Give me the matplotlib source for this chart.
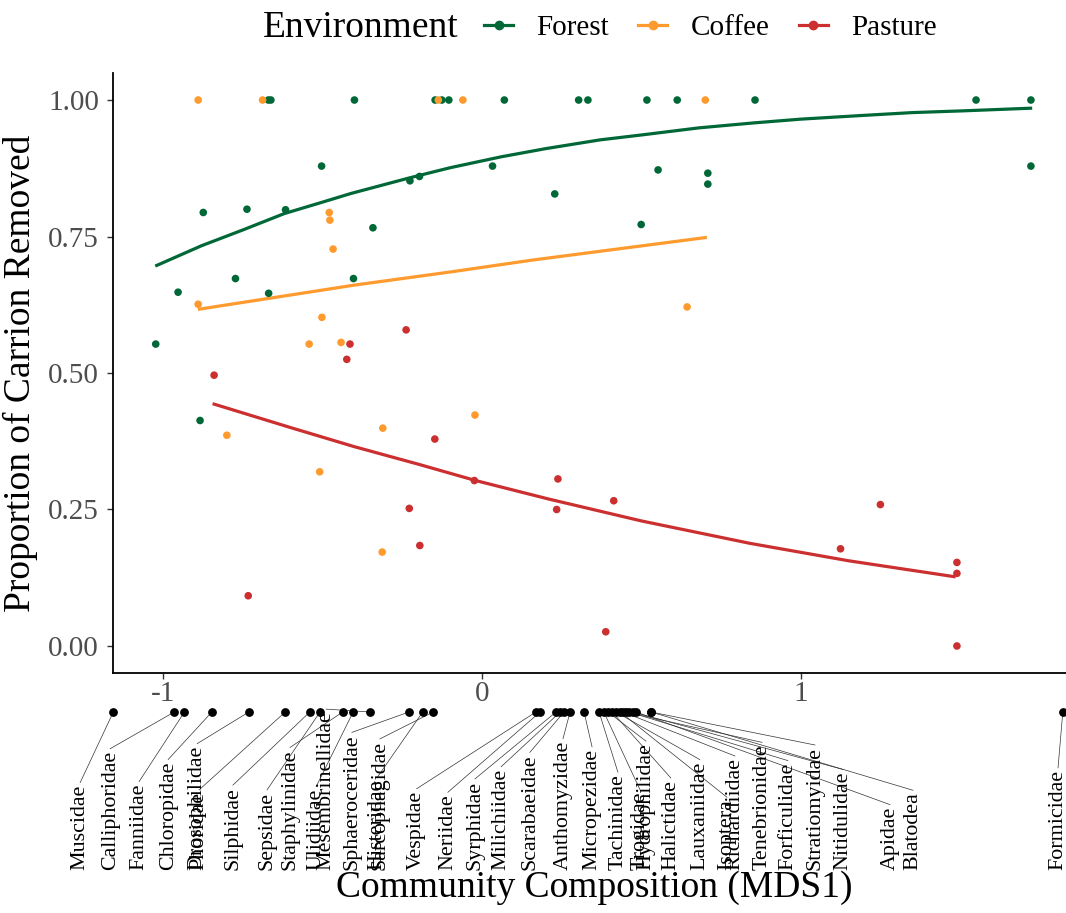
import numpy as np
import matplotlib
matplotlib.use("Agg")
import matplotlib.pyplot as plt
from matplotlib.lines import Line2D

# --- data ---
forest_x = [-1.023, -0.953, -0.884, -0.874, -0.773, -0.737, -0.670, -0.662, -0.669, -0.616,
            -0.503, -0.400, -0.403, -0.342, -0.226, -0.196, -0.147, -0.126, -0.104, 0.033,
            0.070, 0.228, 0.303, 0.332, 0.499, 0.517, 0.552, 0.612, 0.708, 0.708,
            0.856, 1.549, 1.721, 1.721]
forest_y = [0.553, 0.648, 0.413, 0.794, 0.673, 0.800, 1.0, 1.0, 0.646, 0.799,
            0.879, 1.0, 0.673, 0.766, 0.852, 0.860, 1.0, 1.0, 1.0, 0.879,
            1.0, 0.828, 1.0, 1.0, 0.772, 1.0, 0.872, 1.0, 0.866, 0.846,
            1.0, 1.0, 1.0, 0.879]

coffee_x = [-0.890, -0.688, -0.890, -0.479, -0.477, -0.467, -0.502, -0.542, -0.442,
            -0.137, -0.060, -0.800, -0.509, -0.311, -0.313, -0.022, 0.700, 0.643]
coffee_y = [1.0, 1.0, 0.626, 0.794, 0.780, 0.727, 0.602, 0.553, 0.556,
            1.0, 1.0, 0.386, 0.319, 0.399, 0.172, 0.423, 1.0, 0.621]

pasture_x = [-0.840, -0.733, -0.414, -0.424, -0.238, -0.148, -0.024, -0.228, -0.195,
             0.238, 0.234, 0.413, 0.388, 1.124, 1.249, 1.489, 1.489, 1.489]
pasture_y = [0.496, 0.092, 0.553, 0.525, 0.579, 0.379, 0.303, 0.252, 0.184,
             0.306, 0.250, 0.266, 0.026, 0.178, 0.259, 0.153, 0.133, 0.0]

# fitted curves
forest_fit_x = [-1.02, -0.88, -0.75, -0.62, -0.50, -0.41, -0.23, -0.10, 0.06, 0.20,
                0.37, 0.50, 0.68, 0.85, 1.00, 1.20, 1.35, 1.50, 1.72]
forest_fit_y = [0.697, 0.733, 0.762, 0.792, 0.813, 0.829, 0.857, 0.876, 0.896, 0.911,
                0.927, 0.936, 0.949, 0.958, 0.965, 0.972, 0.977, 0.980, 0.985]
coffee_fit_x = [-0.886, -0.40, -0.10, 0.16, 0.70]
coffee_fit_y = [0.617, 0.661, 0.685, 0.707, 0.748]
pasture_fit_x = [-0.84, -0.60, -0.40, -0.20, -0.02, 0.21, 0.50, 0.84, 1.15, 1.48]
pasture_fit_y = [0.443, 0.400, 0.365, 0.333, 0.303, 0.269, 0.229, 0.188, 0.156, 0.127]

families = ["Muscidae", "Calliphoridae", "Fanniidae", "Chloropidae", "Drosophilidae",
            "Phoridae", "Silphidae", "Sepsidae", "Staphylinidae", "Ulidiidae",
            "Mesembrinellidae", "Sphaeroceridae", "Histeridae", "Sarcophagidae",
            "Vespidae", "Neriidae", "Syrphidae", "Milichiidae", "Scarabaeidae",
            "Anthomyzidae", "Micropezidae", "Tachinidae", "Trogidae", "Hydrophilidae",
            "Halictidae", "Lauxaniidae", "Isoptera", "Richardiidae", "Tenebrionidae",
            "Forficulidae", "Stratiomyidae", "Nitidulidae", "Apidae", "Blatodea",
            "Formicidae"]
family_mds1 = [-1.156, -0.965, -0.933, -0.847, -0.731, -0.617, -0.540, -0.508, -0.437,
               -0.404, -0.351, -0.229, -0.186, -0.153, 0.169, 0.182, 0.232, 0.245,
               0.257, 0.276, 0.320, 0.367, 0.382, 0.395, 0.408, 0.420, 0.433, 0.442,
               0.451, 0.461, 0.530, 0.473, 0.483, 0.530, 1.821]

# where the repelled labels ended up (layout, MDS1 units)
label_pos = [-1.260, -1.166, -1.075, -0.984, -0.893, -0.887, -0.781, -0.674, -0.602,
             -0.520, -0.489, -0.408, -0.329, -0.320, -0.205, -0.107, -0.022, 0.060,
             0.150, 0.254, 0.345, 0.426, 0.495, 0.514, 0.592, 0.683, 0.768, 0.793,
             0.878, 0.959, 1.044, 1.132, 1.279, 1.351, 1.806]

colors = {"Forest": "#006837", "Coffee": "#fe9a2e", "Pasture": "#cc2f2f"}

plt.rcParams["font.family"] = ["Liberation Serif", "DejaVu Serif"]
plt.rcParams["axes.unicode_minus"] = False

W, H = 1066, 913
fig = plt.figure(figsize=(W / 100, H / 100), dpi=100)
ax = fig.add_axes([113 / W, 1 - 673 / H, (W - 113) / W, 600 / H])
strip = fig.add_axes([113 / W, 1 - 880 / H, (W - 113) / W, 200 / H])

xlim = (-1.157, 1.831)

series = [("Forest", forest_x, forest_y, forest_fit_x, forest_fit_y),
          ("Coffee", coffee_x, coffee_y, coffee_fit_x, coffee_fit_y),
          ("Pasture", pasture_x, pasture_y, pasture_fit_x, pasture_fit_y)]
for name, x, y, fx, fy in series:
    ax.scatter(x, y, s=30, color=colors[name], edgecolors="none", zorder=3)
    ax.plot(fx, fy, color=colors[name], lw=2.3, zorder=2, solid_joinstyle="round")

ax.set_xlim(*xlim)
ax.set_ylim(-0.0495, 1.0495)
ax.set_yticks([0, 0.25, 0.5, 0.75, 1.0])
ax.set_yticklabels(["0.00", "0.25", "0.50", "0.75", "1.00"])
ax.set_xticks([-1, 0, 1])
ax.set_xticklabels(["-1", "0", "1"])
for side in ["top", "right"]:
    ax.spines[side].set_visible(False)
for side in ["left", "bottom"]:
    ax.spines[side].set_linewidth(1.3)
    ax.spines[side].set_color("black")
ax.tick_params(axis="both", labelsize=21, labelcolor="#4d4d4d", color="#333333",
               length=4, width=1.0)
ax.tick_params(axis="y", pad=6)
ax.tick_params(axis="x", pad=2)
ax.set_ylabel("Proportion of Carrion Removed", fontsize=27)
ax.yaxis.set_label_coords(-0.079, 0.5)

# family strip below the axis
dot_y = 0.84
base_y = 0.05
strip.set_xlim(*xlim)
strip.set_ylim(0, 1)
strip.axis("off")
strip.scatter(family_mds1, [dot_y] * len(family_mds1), s=28, color="black",
              zorder=3, clip_on=False)
texts = []
for name, lx in zip(families, label_pos):
    t = strip.text(lx, base_y, name, rotation=90, ha="center", va="bottom",
                   fontsize=15.8, clip_on=False)
    texts.append(t)

fig.canvas.draw()
renderer = fig.canvas.get_renderer()
inv = strip.transData.inverted()
for t, fx, lx in zip(texts, family_mds1, label_pos):
    bb = t.get_window_extent(renderer)
    top = inv.transform((0, bb.y1 + 2))[1]
    strip.plot([fx, lx], [dot_y, top], color="#333333", lw=0.5, zorder=1, clip_on=False)

fig.text(594 / W, 1 - 888 / H, "Community Composition (MDS1)", fontsize=27,
         ha="center", va="center")

# legend
fig.text(263 / W, 1 - 28 / H, "Environment", fontsize=27, ha="left", va="center")
handles = [Line2D([], [], color=colors[n], lw=2.3, marker="o", markersize=6)
           for n in ["Forest", "Coffee", "Pasture"]]
fig.legend(handles, ["Forest", "Coffee", "Pasture"], loc="center left",
           bbox_to_anchor=(484 / W, 1 - 28 / H), ncol=3, frameon=False, fontsize=21,
           handlelength=1.0, handletextpad=0.8, columnspacing=1.0,
           borderpad=0, borderaxespad=0)

fig.savefig("out.png", dpi=100)
